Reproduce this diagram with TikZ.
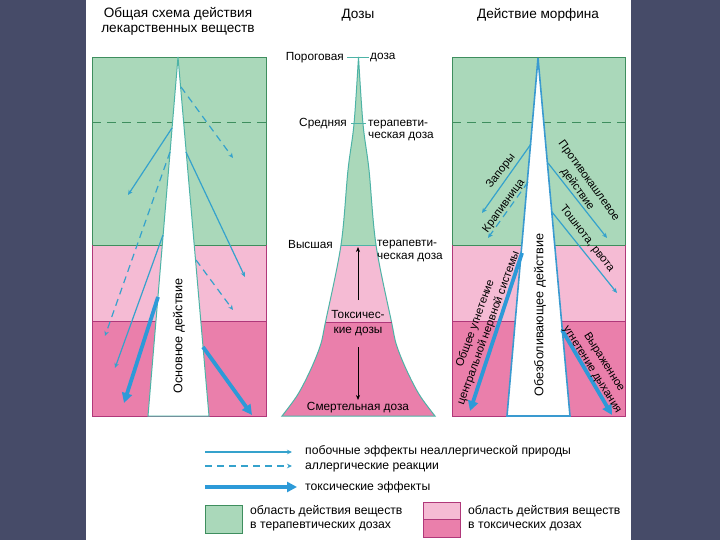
\documentclass[tikz,border=0pt]{standalone}
\usepackage{fontspec}
\setmainfont{Liberation Sans}
\usetikzlibrary{arrows.meta}
\definecolor{bgdark}{HTML}{464B68}
\definecolor{gfill}{HTML}{AAD8BA}
\definecolor{gborder}{HTML}{3E8E5E}
\definecolor{lpink}{HTML}{F5BBD4}
\definecolor{dpink}{HTML}{EA7FAB}
\definecolor{mborder}{HTML}{B0387A}
\definecolor{thinblue}{HTML}{35A2CC}
\definecolor{thickblue}{HTML}{2D9AD8}
\definecolor{tealline}{HTML}{4DB3A6}
\definecolor{spikeblue}{HTML}{3A9AD0}
\tikzset{
  sideeff/.style={draw=thinblue, line width=1.2pt, -{Stealth[length=5pt,width=4.5pt]}},
  allerg/.style={sideeff, dash pattern=on 7pt off 5pt},
  toxic/.style={draw=thickblue, line width=3.8pt, -{Triangle[length=10pt,width=10pt]}},
  lbl/.style={inner sep=0pt, font=\fontsize{11.8}{12.5}\selectfont},
  rlbl/.style={inner sep=0pt, align=center, font=\fontsize{11.3}{14}\selectfont},
  ttl/.style={inner sep=0pt, align=center, font=\fontsize{13.6}{14.5}\selectfont},
  lgd/.style={anchor=west, align=left, inner sep=0pt, font=\fontsize{12.2}{14.5}\selectfont},
}
\begin{document}
\begin{tikzpicture}[x=1pt,y=-1pt]
\useasboundingbox (0,0) rectangle (720,540);
\fill[bgdark] (0,0) rectangle (720,540);
\fill[white] (86,0) rectangle (631,540);

% ---------- titles
\node[ttl] (t1) at (178,21.5) {Общая схема действия\\лекарственных веществ};
\node[ttl] (t2) at (358,15) {Дозы};
\node[ttl] (t3) at (538,15) {Действие морфина};

% ---------- left panel
\fill[gfill] (92,57) rectangle (266,245);
\fill[lpink] (92,245) rectangle (266,321);
\fill[dpink] (92,321) rectangle (266,416);
\draw[gborder, line width=0.9pt] (92,245) -- (92,57) -- (266,57) -- (266,245) -- cycle;
\draw[mborder, line width=0.9pt] (92,245) -- (92,416) -- (266,416) -- (266,245);
\draw[mborder, line width=0.9pt] (92,321) -- (266,321);
\draw[gborder, line width=1pt, dash pattern=on 9pt off 6pt] (92,123) -- (266,123);
\filldraw[fill=white, draw=tealline, line width=1pt] (178,57) -- (148,416) -- (209,416) -- cycle;
\node[rotate=90, inner sep=0pt, font=\fontsize{12.6}{13}\selectfont] (mainact) at (179,336) {Основное действие};

\coordinate (l1s) at (181,87);  \coordinate (l1e) at (233,158);
\coordinate (l2s) at (172,128); \coordinate (l2e) at (128,195);
\coordinate (l3s) at (170,152); \coordinate (l3e) at (105,336);
\coordinate (l4s) at (186,152); \coordinate (l4e) at (245,277);
\coordinate (l5s) at (196,260); \coordinate (l5e) at (233,310);
\coordinate (l6s) at (163,235); \coordinate (l6e) at (115,368);
\coordinate (l7s) at (158,297); \coordinate (l7e) at (124,403);
\coordinate (l8s) at (203,347); \coordinate (l8e) at (252,415);
\draw[allerg] (l1s) -- (l1e);
\draw[sideeff] (l2s) -- (l2e);
\draw[allerg] (l3s) -- (l3e);
\draw[sideeff] (l4s) -- (l4e);
\draw[allerg] (l5s) -- (l5e);
\draw[sideeff] (l6s) -- (l6e);
\draw[toxic] (l7s) -- (l7e);
\draw[toxic] (l8s) -- (l8e);

% ---------- middle funnel
\def\funnel{plot[smooth, tension=0.55] coordinates {(358.5,57) (354,124) (348,170) (341,245) (325.5,322) (320.5,345) (310.5,370) (297.5,395) (282,416)}
  -- plot[smooth, tension=0.55] coordinates {(435,416) (419.5,395) (406.5,370) (396.5,345) (391.5,322) (376,245) (369,170) (363,124) (358.5,57)} -- cycle}
\begin{scope}
\clip \funnel;
\fill[gfill] (250,40) rectangle (470,245);
\fill[lpink] (250,245) rectangle (470,322);
\fill[dpink] (250,322) rectangle (470,420);
\end{scope}
\draw[tealline, line width=1pt] \funnel;
\draw[tealline, line width=1pt] (347,57.5) -- (369,57.5);
\draw[tealline, line width=1pt] (351,124) -- (366,124);
\draw[tealline, line width=1pt] (341,245) -- (376,245);
\draw[mborder, line width=1pt] (325.5,322) -- (391.5,322);

\node[lbl, anchor=east] (porog) at (344,57.5) {Пороговая};
\node[lbl, anchor=west] (porogd) at (370,57.5) {доза};
\node[lbl, anchor=east] (sred) at (347,124) {Средняя};
\node[lbl, anchor=west, align=left] (sredt) at (368,130.5) {терапевти-\\ческая доза};
\node[lbl, anchor=east] (vys) at (333,244) {Высшая};
\node[lbl, anchor=west, align=left] (vyst) at (377,251) {терапевти-\\ческая доза};
\node[lbl, align=center, font=\fontsize{11.8}{15}\selectfont] (tox) at (358,323.5) {Токсичес-\\кие дозы};
\node[lbl] (death) at (358,407.5) {Смертельная доза};
\coordinate (upS) at (358,300); \coordinate (upE) at (358,247);
\coordinate (dnS) at (358,347); \coordinate (dnE) at (358,400);
\draw[black, line width=0.7pt, -{Stealth[length=5pt,width=4pt]}] (upS) -- (upE);
\draw[black, line width=0.7pt, -{Stealth[length=5pt,width=4pt]}] (dnS) -- (dnE);

% ---------- right panel
\fill[gfill] (452,57) rectangle (625,245);
\fill[lpink] (452,245) rectangle (625,321);
\fill[dpink] (452,321) rectangle (625,416);
\draw[gborder, line width=0.9pt] (452,245) -- (452,57) -- (625,57) -- (625,245) -- cycle;
\draw[mborder, line width=0.9pt] (452,245) -- (452,416) -- (625,416) -- (625,245);
\draw[mborder, line width=0.9pt] (452,321) -- (625,321);
\draw[gborder, line width=1pt, dash pattern=on 9pt off 6pt] (452,123) -- (625,123);
\filldraw[fill=white, draw=spikeblue, line width=1.6pt] (538,58) -- (507,416) -- (570,416) -- cycle;
\node[rotate=90, inner sep=0pt, font=\fontsize{12.6}{13}\selectfont] (analg) at (540,315) {Обезболивающее действие};

\coordinate (r1s) at (531,144); \coordinate (r1e) at (482,213);
\coordinate (r2s) at (528,182); \coordinate (r2e) at (488,238);
\coordinate (r3s) at (548,163); \coordinate (r3e) at (607,238);
\coordinate (r4s) at (552,212); \coordinate (r4e) at (617,293);
\coordinate (r5s) at (522,253); \coordinate (r5e) at (470,411);
\coordinate (r6s) at (562,330); \coordinate (r6e) at (612,415);
\draw[sideeff] (r1s) -- (r1e);
\draw[allerg] (r2s) -- (r2e);
\draw[sideeff] (r3s) -- (r3e);
\draw[sideeff] (r4s) -- (r4e);
\draw[toxic] (r5s) -- (r5e);
\draw[toxic] (r6s) -- (r6e);

\node[rlbl, rotate=52] (zap) at (501,171) {Запоры};
\node[rlbl, rotate=54] (krap) at (504,206) {Крапивница};
\node[rlbl, rotate=-54] (protiv) at (583,185) {Противокашлевое\\действие};
\node[rlbl, rotate=-52] (tosh) at (587,239) {Тошнота, рвота};
\node[rlbl, rotate=70] (cns) at (482,326) {Общее угнетение\\центральной нервной системы};
\node[rlbl, rotate=-58] (resp) at (598,366) {Выраженное\\угнетение дыхания};

% ---------- legend
\coordinate (g1s) at (205,452); \coordinate (g1e) at (292,452);
\coordinate (g2s) at (205,466); \coordinate (g2e) at (292,466);
\coordinate (g3s) at (205,487); \coordinate (g3e) at (297,487);
\draw[sideeff] (g1s) -- (g1e);
\draw[allerg] (g2s) -- (g2e);
\draw[toxic] (g3s) -- (g3e);
\node[lgd] (lg1) at (305,451.5) {побочные эффекты неаллергической природы};
\node[lgd] (lg2) at (305,467) {аллергические реакции};
\node[lgd] (lg3) at (305,487) {токсические эффекты};
\filldraw[fill=gfill, draw=gborder, line width=0.9pt] (205,505) rectangle (242,533);
\node[lgd] (lg4) at (250,518) {область действия веществ\\в терапевтических дозах};
\fill[lpink] (423,502) rectangle (460,519.5);
\fill[dpink] (423,519.5) rectangle (460,537);
\draw[mborder, line width=0.9pt] (423,502) rectangle (460,537);
\draw[mborder, line width=0.7pt] (423,519.5) -- (460,519.5);
\node[lgd] (lg5) at (468,518) {область действия веществ\\в токсических дозах};
\end{tikzpicture}
\end{document}
